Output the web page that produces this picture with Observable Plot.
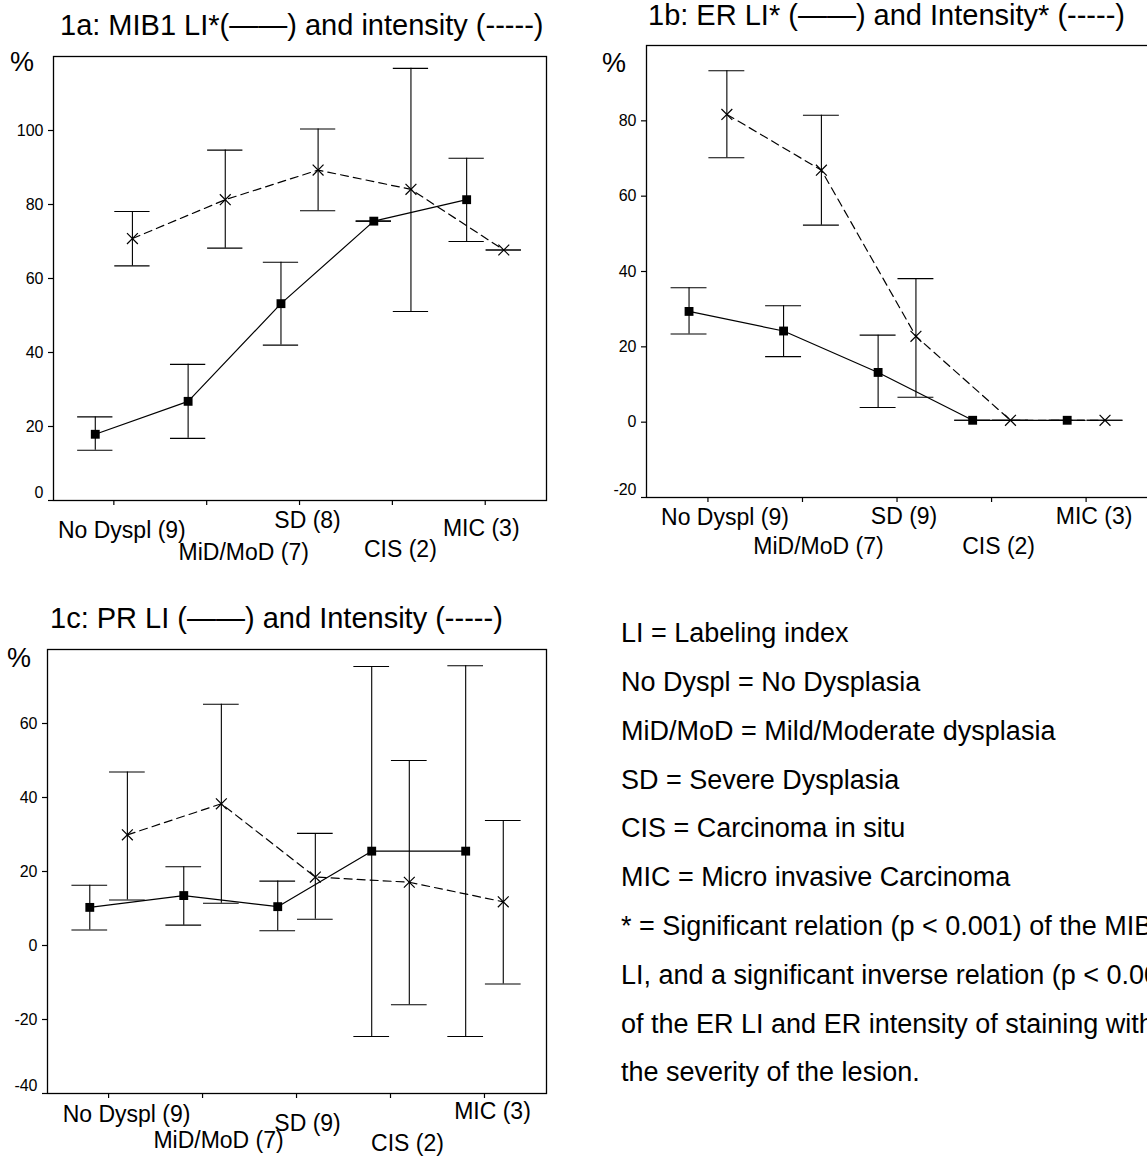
<!DOCTYPE html>
<html>
<head>
<meta charset="utf-8">
<script src="https://cdn.jsdelivr.net/npm/d3@7"></script>
<script src="https://cdn.jsdelivr.net/npm/@observablehq/plot@0.6"></script>
<style>
  html, body { margin: 0; padding: 0; background: #fff; overflow: hidden; }
  #root { position: relative; width: 1147px; height: 1156px; overflow: hidden; background: #fff;
          font-family: "Liberation Sans", Arial, Helvetica, sans-serif; color: #000; }
  .t { position: absolute; white-space: nowrap; line-height: 1; }
  #root svg { position: absolute; }
</style>
</head>
<body>
<div id="root"></div>
<script>
// ---------------- DATA ----------------
const categories = ["No Dyspl", "MiD/MoD", "SD", "CIS", "MIC"];
const n1a = [9, 7, 8, 2, 3];
const n1b = [9, 7, 9, 2, 3];
const n1c = [9, 7, 9, 2, 3];

const panelTitles = [
  "1a: MIB1 LI*(\u2014\u2014) and intensity (-----)",
  "1b: ER LI* (\u2014\u2014) and Intensity* (-----)",
  "1c: PR LI (\u2014\u2014) and Intensity (-----)"
];

// 1a: MIB1 labeling index (solid) and intensity (dashed)
const mibLI      = [17.9, 26.8, 53.2, 75.5, 81.3];
const mibLILow   = [13.6, 16.8, 42.0, 75.5, 70.0];
const mibLIHigh  = [22.6, 36.8, 64.4, 75.5, 92.5];
const mibInt     = [70.8, 81.3, 89.3, 84.1, 67.7];
const mibIntLow  = [63.4, 68.2, 78.3, 51.1, 67.7];
const mibIntHigh = [78.1, 94.7, 100.4, 116.8, 67.7];

// 1b: ER
const erLI      = [29.4, 24.2, 13.2, 0.5, 0.5];
const erLILow   = [23.4, 17.4, 3.9, 0.5, 0.5];
const erLIHigh  = [35.7, 30.9, 23.1, 0.5, 0.5];
const erInt     = [81.7, 66.9, 22.8, 0.5, 0.5];
const erIntLow  = [70.2, 52.3, 6.6, 0.5, 0.5];
const erIntHigh = [93.3, 81.5, 38.1, 0.5, 0.5];

// 1c: PR
const prLI      = [10.3, 13.5, 10.5, 25.5, 25.5];
const prLILow   = [4.2, 5.5, 4.0, -24.6, -24.6];
const prLIHigh  = [16.3, 21.3, 17.4, 75.4, 75.6];
const prInt     = [29.9, 38.3, 18.5, 17.1, 11.8];
const prIntLow  = [12.3, 11.4, 7.1, -16.0, -10.4];
const prIntHigh = [46.9, 65.2, 30.3, 50.0, 33.8];

const yTicks1a = [0, 20, 40, 60, 80, 100];
const yTicks1b = [-20, 0, 20, 40, 60, 80];
const yTicks1c = [-40, -20, 0, 20, 40, 60];

const legendLines = [
  "LI = Labeling index",
  "No Dyspl = No Dysplasia",
  "MiD/MoD = Mild/Moderate dysplasia",
  "SD = Severe Dysplasia",
  "CIS = Carcinoma in situ",
  "MIC = Micro invasive Carcinoma",
  "* = Significant relation (p < 0.001) of the MIB1",
  "LI, and a significant inverse relation (p < 0.001)",
  "of the ER LI and ER intensity of staining with",
  "the severity of the lesion."
];

// ---------------- LAYOUT ----------------
const FONT = '"Liberation Sans", Arial, Helvetica, sans-serif';
const root = document.getElementById("root");
const fmt = d => String(d); // plain hyphen-minus like the original

function addText(str, left, baseline, size) {
  const d = document.createElement("div");
  d.className = "t";
  d.textContent = str;
  d.style.left = left + "px";
  d.style.top = (baseline - 0.8465 * size) + "px";
  d.style.fontSize = size + "px";
  root.appendChild(d);
}

function panel(cfg) {
  const off = 0.2, cap = 0.19;
  const mk = (vals, lo, hi, shift) => categories.map((c, i) => ({
    cat: c, x: i + 1 + shift, v: vals[i], lo: lo[i], hi: hi[i]
  }));
  const li = mk(cfg.li, cfg.liLo, cfg.liHi, -off);
  const it = mk(cfg.int, cfg.intLo, cfg.intHi, off);
  const bottom = cfg.yTicks[0];
  const labelMarks = categories.map((c, i) =>
    Plot.text([`${c} (${cfg.n[i]})`], {
      x: () => i + 1, text: d => d, frameAnchor: "bottom",
      dx: cfg.labels[i][0], dy: cfg.labels[i][1],
      lineAnchor: "middle", textAnchor: "middle", fontSize: 23, fill: "black"
    })
  );
  const errMarks = (data) => [
    Plot.ruleX(data, {x: "x", y1: "lo", y2: "hi", stroke: "black", strokeWidth: 1.1}),
    Plot.ruleY(data, {y: "lo", x1: d => d.x - cap, x2: d => d.x + cap, stroke: "black", strokeWidth: 1.1}),
    Plot.ruleY(data, {y: "hi", x1: d => d.x - cap, x2: d => d.x + cap, stroke: "black", strokeWidth: 1.1})
  ];
  const svg = Plot.plot({
    width: cfg.width, height: cfg.height,
    marginLeft: cfg.m[0], marginRight: cfg.m[1], marginTop: cfg.m[2], marginBottom: cfg.m[3],
    style: {fontFamily: FONT, fontSize: "16px", color: "black", background: "transparent", overflow: "visible"},
    x: {type: "linear", domain: [0.35, 5.66]},
    y: {type: "linear", domain: cfg.yDomain},
    marks: [
      Plot.axisY({ticks: cfg.yTicks.slice(1), tickSize: 5, tickPadding: 5, tickFormat: fmt, label: null, fontSize: 16, strokeWidth: 1.2}),
      Plot.axisY({ticks: [bottom], tickSize: 5, tickFormat: () => "", label: null, strokeWidth: 1.2}),
      Plot.axisY({ticks: [bottom], tickSize: 0, tickPadding: 10, dy: -8, tickFormat: fmt, label: null, fontSize: 16}),
      Plot.axisX({ticks: [1, 2, 3, 4, 5], tickSize: 5, tickFormat: () => "", label: null, strokeWidth: 1.2}),
      ...errMarks(li),
      ...errMarks(it),
      Plot.line(li, {x: "x", y: "v", stroke: "black", strokeWidth: 1.2}),
      Plot.line(it, {x: "x", y: "v", stroke: "black", strokeWidth: 1.2, strokeDasharray: "8,5"}),
      Plot.dot(li, {x: "x", y: "v", symbol: "square", r: 5, fill: "black", stroke: "none"}),
      Plot.dot(it, {x: "x", y: "v", symbol: "times", r: 5, stroke: "black", strokeWidth: 1.2, fill: "none"}),
      Plot.frame({stroke: "black", strokeWidth: 1.3}),
      ...labelMarks
    ]
  });
  svg.style.left = cfg.left + "px";
  svg.style.top = cfg.top + "px";
  root.appendChild(svg);
}

panel({
  li: mibLI, liLo: mibLILow, liHi: mibLIHigh,
  int: mibInt, intLo: mibIntLow, intHi: mibIntHigh,
  n: n1a, yDomain: [0, 120], yTicks: yTicks1a,
  left: 0, top: 0, width: 560, height: 580, m: [53, 14, 56, 80],
  labels: [[8, 30], [37, 52], [8, 20], [8, 49], [-4, 28]]
});
panel({
  li: erLI, liLo: erLILow, liHi: erLIHigh,
  int: erInt, intLo: erIntLow, intHi: erIntHigh,
  n: n1b, yDomain: [-20, 100], yTicks: yTicks1b,
  left: 580, top: 0, width: 580, height: 580, m: [66, 12, 45, 83],
  labels: [[17, 20], [16, 49], [7, 19], [7, 49], [8, 19]]
});
panel({
  li: prLI, liLo: prLILow, liHi: prLIHigh,
  int: prInt, intLo: prIntLow, intHi: prIntHigh,
  n: n1c, yDomain: [-40, 80], yTicks: yTicks1c,
  left: 0, top: 590, width: 560, height: 566, m: [47, 14, 59, 63],
  labels: [[18, 21], [16, 47], [11, 30], [17, 50], [8, 18]]
});

// titles and "%" labels
addText(panelTitles[0], 60, 36, 29);
addText(panelTitles[1], 648, 26, 29);
addText(panelTitles[2], 50, 629, 29);
addText("%", 10, 72, 27);
addText("%", 602, 73, 27);
addText("%", 7, 668, 27);

// legend / notes
legendLines.forEach((s, k) => addText(s, 621, 643 + k * 48.8, 27));
</script>
</body>
</html>
